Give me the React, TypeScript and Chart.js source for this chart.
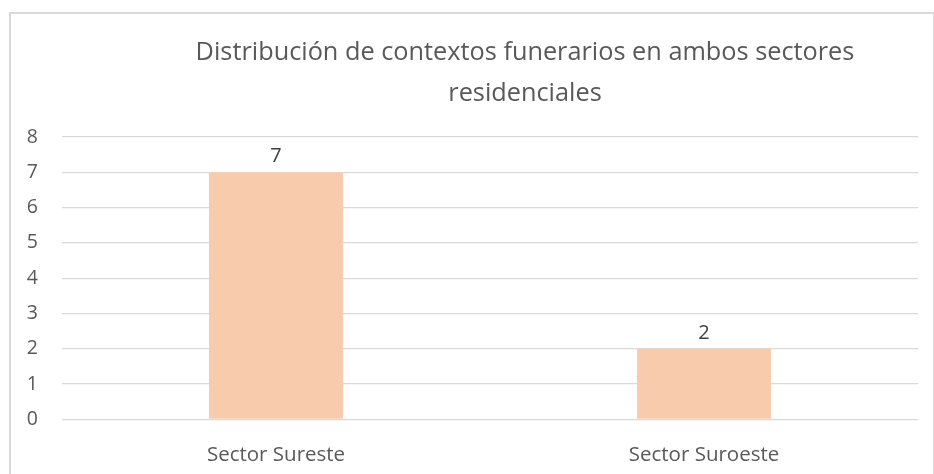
import React, { useEffect, useRef } from "react";
import { Chart, registerables } from "chart.js";

Chart.register(...registerables);

const categories = ["Sector Sureste", "Sector Suroeste"];
const values = [7, 2];
const yMin = 0;
const yMax = 8;
const yStep = 1;
const titleLines = [
  "Distribución de contextos funerarios en ambos sectores",
  "residenciales",
];

const FONT = "'Open Sans', Lato, sans-serif";
const BAR_COLOR = "#F8CBAD";
const GRID_COLOR = "#D9D9D9";
const TEXT_COLOR = "#595959";

const titlePlugin = {
  id: "excelTitle",
  afterDraw(chart: any) {
    const ctx = chart.ctx;
    ctx.save();
    ctx.font = `25.3px ${FONT}`;
    ctx.fillStyle = TEXT_COLOR;
    ctx.textAlign = "center";
    ctx.textBaseline = "alphabetic";
    const cx = (chart.chartArea.left + chart.chartArea.right) / 2 + 35;
    titleLines.forEach((line, i) => {
      ctx.fillText(line, cx, 59.5 + i * 41.5);
    });
    ctx.restore();
  },
};

const valueLabelPlugin = {
  id: "valueLabels",
  afterDatasetsDraw(chart: any) {
    const ctx = chart.ctx;
    ctx.save();
    ctx.font = `20px ${FONT}`;
    ctx.fillStyle = "#404040";
    ctx.textAlign = "center";
    ctx.textBaseline = "alphabetic";
    chart.data.datasets.forEach((ds: any, di: number) => {
      const meta = chart.getDatasetMeta(di);
      meta.data.forEach((el: any, i: number) => {
        ctx.fillText(String(ds.data[i]), el.x, el.y - 10);
      });
    });
    ctx.restore();
  },
};

export default function App() {
  const canvasRef = useRef<HTMLCanvasElement | null>(null);

  useEffect(() => {
    if (!canvasRef.current) return;
    const chart = new Chart(canvasRef.current, {
      type: "bar",
      data: {
        labels: categories,
        datasets: [
          {
            data: values,
            backgroundColor: BAR_COLOR,
            borderWidth: 0,
            categoryPercentage: 1,
            barPercentage: 0.313,
          },
        ],
      },
      options: {
        responsive: false,
        animation: false,
        devicePixelRatio: 1,
        layout: { padding: { top: 137, right: 16, bottom: 0, left: 0 } },
        plugins: {
          legend: { display: false },
          title: { display: false },
          tooltip: { enabled: false },
        },
        scales: {
          x: {
            grid: { display: false },
            border: { display: false },
            ticks: {
              color: TEXT_COLOR,
              font: { family: FONT, size: 20.5 },
              padding: 16,
            },
            afterFit(scale: any) {
              scale.height = 54.7;
            },
          },
          y: {
            min: yMin,
            max: yMax,
            grid: { color: GRID_COLOR, drawTicks: false, lineWidth: 1.3 },
            border: { display: false },
            ticks: {
              stepSize: yStep,
              color: TEXT_COLOR,
              font: { family: FONT, size: 19.5 },
              padding: 24,
            },
            afterFit(scale: any) {
              scale.width = 62;
            },
          },
        },
      },
      plugins: [titlePlugin, valueLabelPlugin],
    });
    return () => chart.destroy();
  }, []);

  return (
    <div
      style={{
        position: "fixed",
        left: 0,
        top: 0,
        width: 934,
        height: 474,
        overflow: "hidden",
        background: "#fff",
      }}
    >
      <div
        style={{
          position: "absolute",
          left: 9,
          top: 12,
          width: 922,
          height: 480,
          border: "2px solid #D9D9D9",
        }}
      />
      <canvas
        ref={canvasRef}
        width={934}
        height={474}
        style={{ position: "absolute", left: 0, top: 0, width: 934, height: 474 }}
      />
    </div>
  );
}
